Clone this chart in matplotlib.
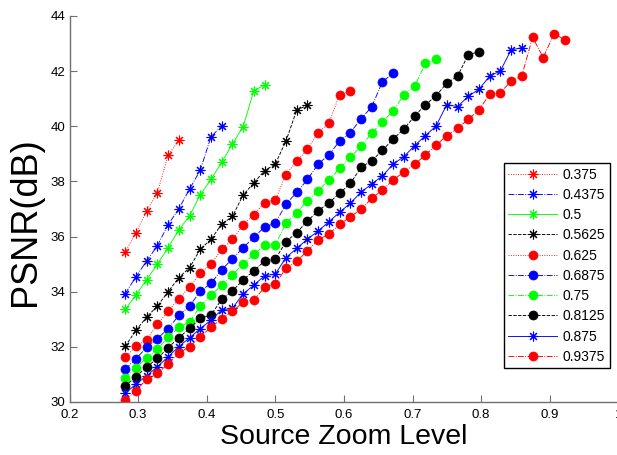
import matplotlib
matplotlib.use("Agg")
import matplotlib.pyplot as plt

plt.rcParams['font.family'] = ['Liberation Sans', 'DejaVu Sans']

# Source zoom levels sampled (n/64 from 18/64 upwards)
zoom_levels = [0.28125, 0.296875, 0.3125, 0.328125, 0.34375, 0.359375,
               0.375, 0.390625, 0.40625, 0.421875, 0.4375, 0.453125,
               0.46875, 0.484375, 0.5, 0.515625, 0.53125, 0.546875,
               0.5625, 0.578125, 0.59375, 0.609375, 0.625, 0.640625,
               0.65625, 0.671875, 0.6875, 0.703125, 0.71875, 0.734375,
               0.75, 0.765625, 0.78125, 0.796875, 0.8125, 0.828125,
               0.84375, 0.859375, 0.875, 0.890625, 0.90625, 0.921875]

series_names = ['0.375', '0.4375', '0.5', '0.5625', '0.625',
                '0.6875', '0.75', '0.8125', '0.875', '0.9375']

psnr_0375 = [35.45, 36.14, 36.93, 37.59, 38.95, 39.50]
psnr_04375 = [33.93, 34.54, 35.12, 35.67, 36.43, 37.01, 37.72, 38.41, 39.62, 40.01]
psnr_05 = [33.36, 33.88, 34.44, 35.00, 35.60, 36.24, 36.75, 37.52, 38.08,
           38.69, 39.36, 39.99, 41.29, 41.50]
psnr_05625 = [32.02, 32.60, 33.08, 33.48, 34.00, 34.51, 34.87, 35.54, 35.90,
              36.45, 36.73, 37.51, 37.95, 38.39, 38.63, 39.47, 40.59, 40.76]
psnr_0625 = [31.62, 32.02, 32.26, 32.82, 33.30, 33.74, 34.17, 34.67, 35.01,
             35.54, 35.90, 36.42, 36.80, 37.23, 37.33, 38.25, 38.73, 39.17,
             39.76, 40.12, 41.15, 41.27]
psnr_06875 = [31.19, 31.57, 31.98, 32.30, 32.66, 33.14, 33.48, 34.02, 34.30,
              34.80, 35.19, 35.60, 35.97, 36.35, 36.48, 37.18, 37.60, 38.07,
              38.63, 38.97, 39.46, 39.77, 40.27, 40.71, 41.62, 41.92]
psnr_075 = [30.88, 31.25, 31.60, 31.93, 32.34, 32.71, 32.90, 33.48, 33.87,
            34.24, 34.60, 35.01, 35.35, 35.69, 35.70, 36.49, 36.86, 37.30,
            37.66, 38.06, 38.47, 38.88, 39.27, 39.76, 40.16, 40.56, 41.15,
            41.45, 42.28, 42.43]
psnr_08125 = [30.58, 30.92, 31.27, 31.58, 31.97, 32.33, 32.67, 33.03, 33.16,
              33.72, 34.03, 34.43, 34.76, 35.11, 35.18, 35.82, 36.14, 36.57,
              36.93, 37.23, 37.57, 37.93, 38.51, 38.75, 39.13, 39.54, 39.90,
              40.37, 40.78, 41.11, 41.56, 41.82, 42.59, 42.71]
psnr_0875 = [30.31, 30.65, 30.95, 31.28, 31.64, 32.01, 32.33, 32.66, 32.97,
             33.34, 33.40, 33.92, 34.24, 34.58, 34.64, 35.24, 35.57, 35.91,
             36.20, 36.54, 36.88, 37.21, 37.61, 37.91, 38.20, 38.63, 38.90,
             39.30, 39.66, 40.01, 40.79, 40.71, 41.09, 41.34, 41.82, 42.01,
             42.77, 42.85]
psnr_09375 = [30.07, 30.41, 30.83, 31.04, 31.38, 31.77, 32.01, 32.37, 32.71,
              33.02, 33.29, 33.62, 33.70, 34.16, 34.28, 34.85, 35.11, 35.48,
              35.88, 36.09, 36.44, 36.72, 36.99, 37.39, 37.69, 38.05, 38.35,
              38.62, 38.96, 39.32, 39.66, 39.93, 40.25, 40.59, 41.17, 41.22,
              41.64, 41.83, 43.23, 42.49, 43.36, 43.14]

all_psnr = [psnr_0375, psnr_04375, psnr_05, psnr_05625, psnr_0625,
            psnr_06875, psnr_075, psnr_08125, psnr_0875, psnr_09375]

ASTER = (8, 2, 0)
styles = [
    dict(color='r', ls=':', marker=ASTER),
    dict(color='b', ls='-.', marker=ASTER),
    dict(color='#00ff00', ls='-', marker=ASTER),
    dict(color='k', ls='--', marker=ASTER),
    dict(color='r', ls=':', marker='o'),
    dict(color='b', ls='-.', marker='o'),
    dict(color='#00ff00', ls='-.', marker='o'),
    dict(color='k', ls='--', marker='o'),
    dict(color='b', ls='-', marker=ASTER),
    dict(color='r', ls='-.', marker='o'),
]

fig = plt.figure(figsize=(6.17, 4.55), dpi=100)
W, H = 617, 455
ax = fig.add_axes([69.5 / W, 53 / H, 548.8 / W, 386 / H])

for name, vals, st in zip(series_names, all_psnr, styles):
    xs = zoom_levels[:len(vals)]
    is_circle = st['marker'] == 'o'
    ax.plot(xs, vals, color=st['color'], linestyle=st['ls'], marker=st['marker'],
            markersize=6.5 if is_circle else 7,
            markeredgewidth=0.5 if is_circle else 0.8,
            markerfacecolor=st['color'], markeredgecolor=st['color'],
            linewidth=0.65, label=name)

ax.set_xlim(0.2, 1.0)
ax.set_ylim(30, 44)
ax.set_xticks([0.2, 0.3, 0.4, 0.5, 0.6, 0.7, 0.8, 0.9, 1.0])
ax.set_xticklabels(['0.2', '0.3', '0.4', '0.5', '0.6', '0.7', '0.8', '0.9', '1'])
ax.set_yticks(range(30, 45, 2))

for side in ('top', 'right'):
    ax.spines[side].set_visible(False)
for side in ('left', 'bottom'):
    ax.spines[side].set_color('#707070')
    ax.spines[side].set_linewidth(1.0)
ax.tick_params(direction='in', length=5, width=0.8, color='#707070',
               labelsize=9.5, labelcolor='black')
ax.tick_params(axis='x', pad=5)
ax.tick_params(axis='y', pad=3)

ax.set_xlabel('Source Zoom Level', fontsize=20.5, labelpad=2)
ax.set_ylabel('PSNR(dB)', fontsize=26)
ax.yaxis.set_label_coords(-0.048, 0.468)

leg = ax.legend(loc='upper right', bbox_to_anchor=(0.985, 0.619),
                fontsize=10, numpoints=1, handlelength=3.55,
                handletextpad=0.4, labelspacing=0.45, borderpad=0.32,
                fancybox=False, framealpha=1, edgecolor='black',
                borderaxespad=0)
leg.get_frame().set_linewidth(1.0)

fig.savefig('out.png', dpi=100)
